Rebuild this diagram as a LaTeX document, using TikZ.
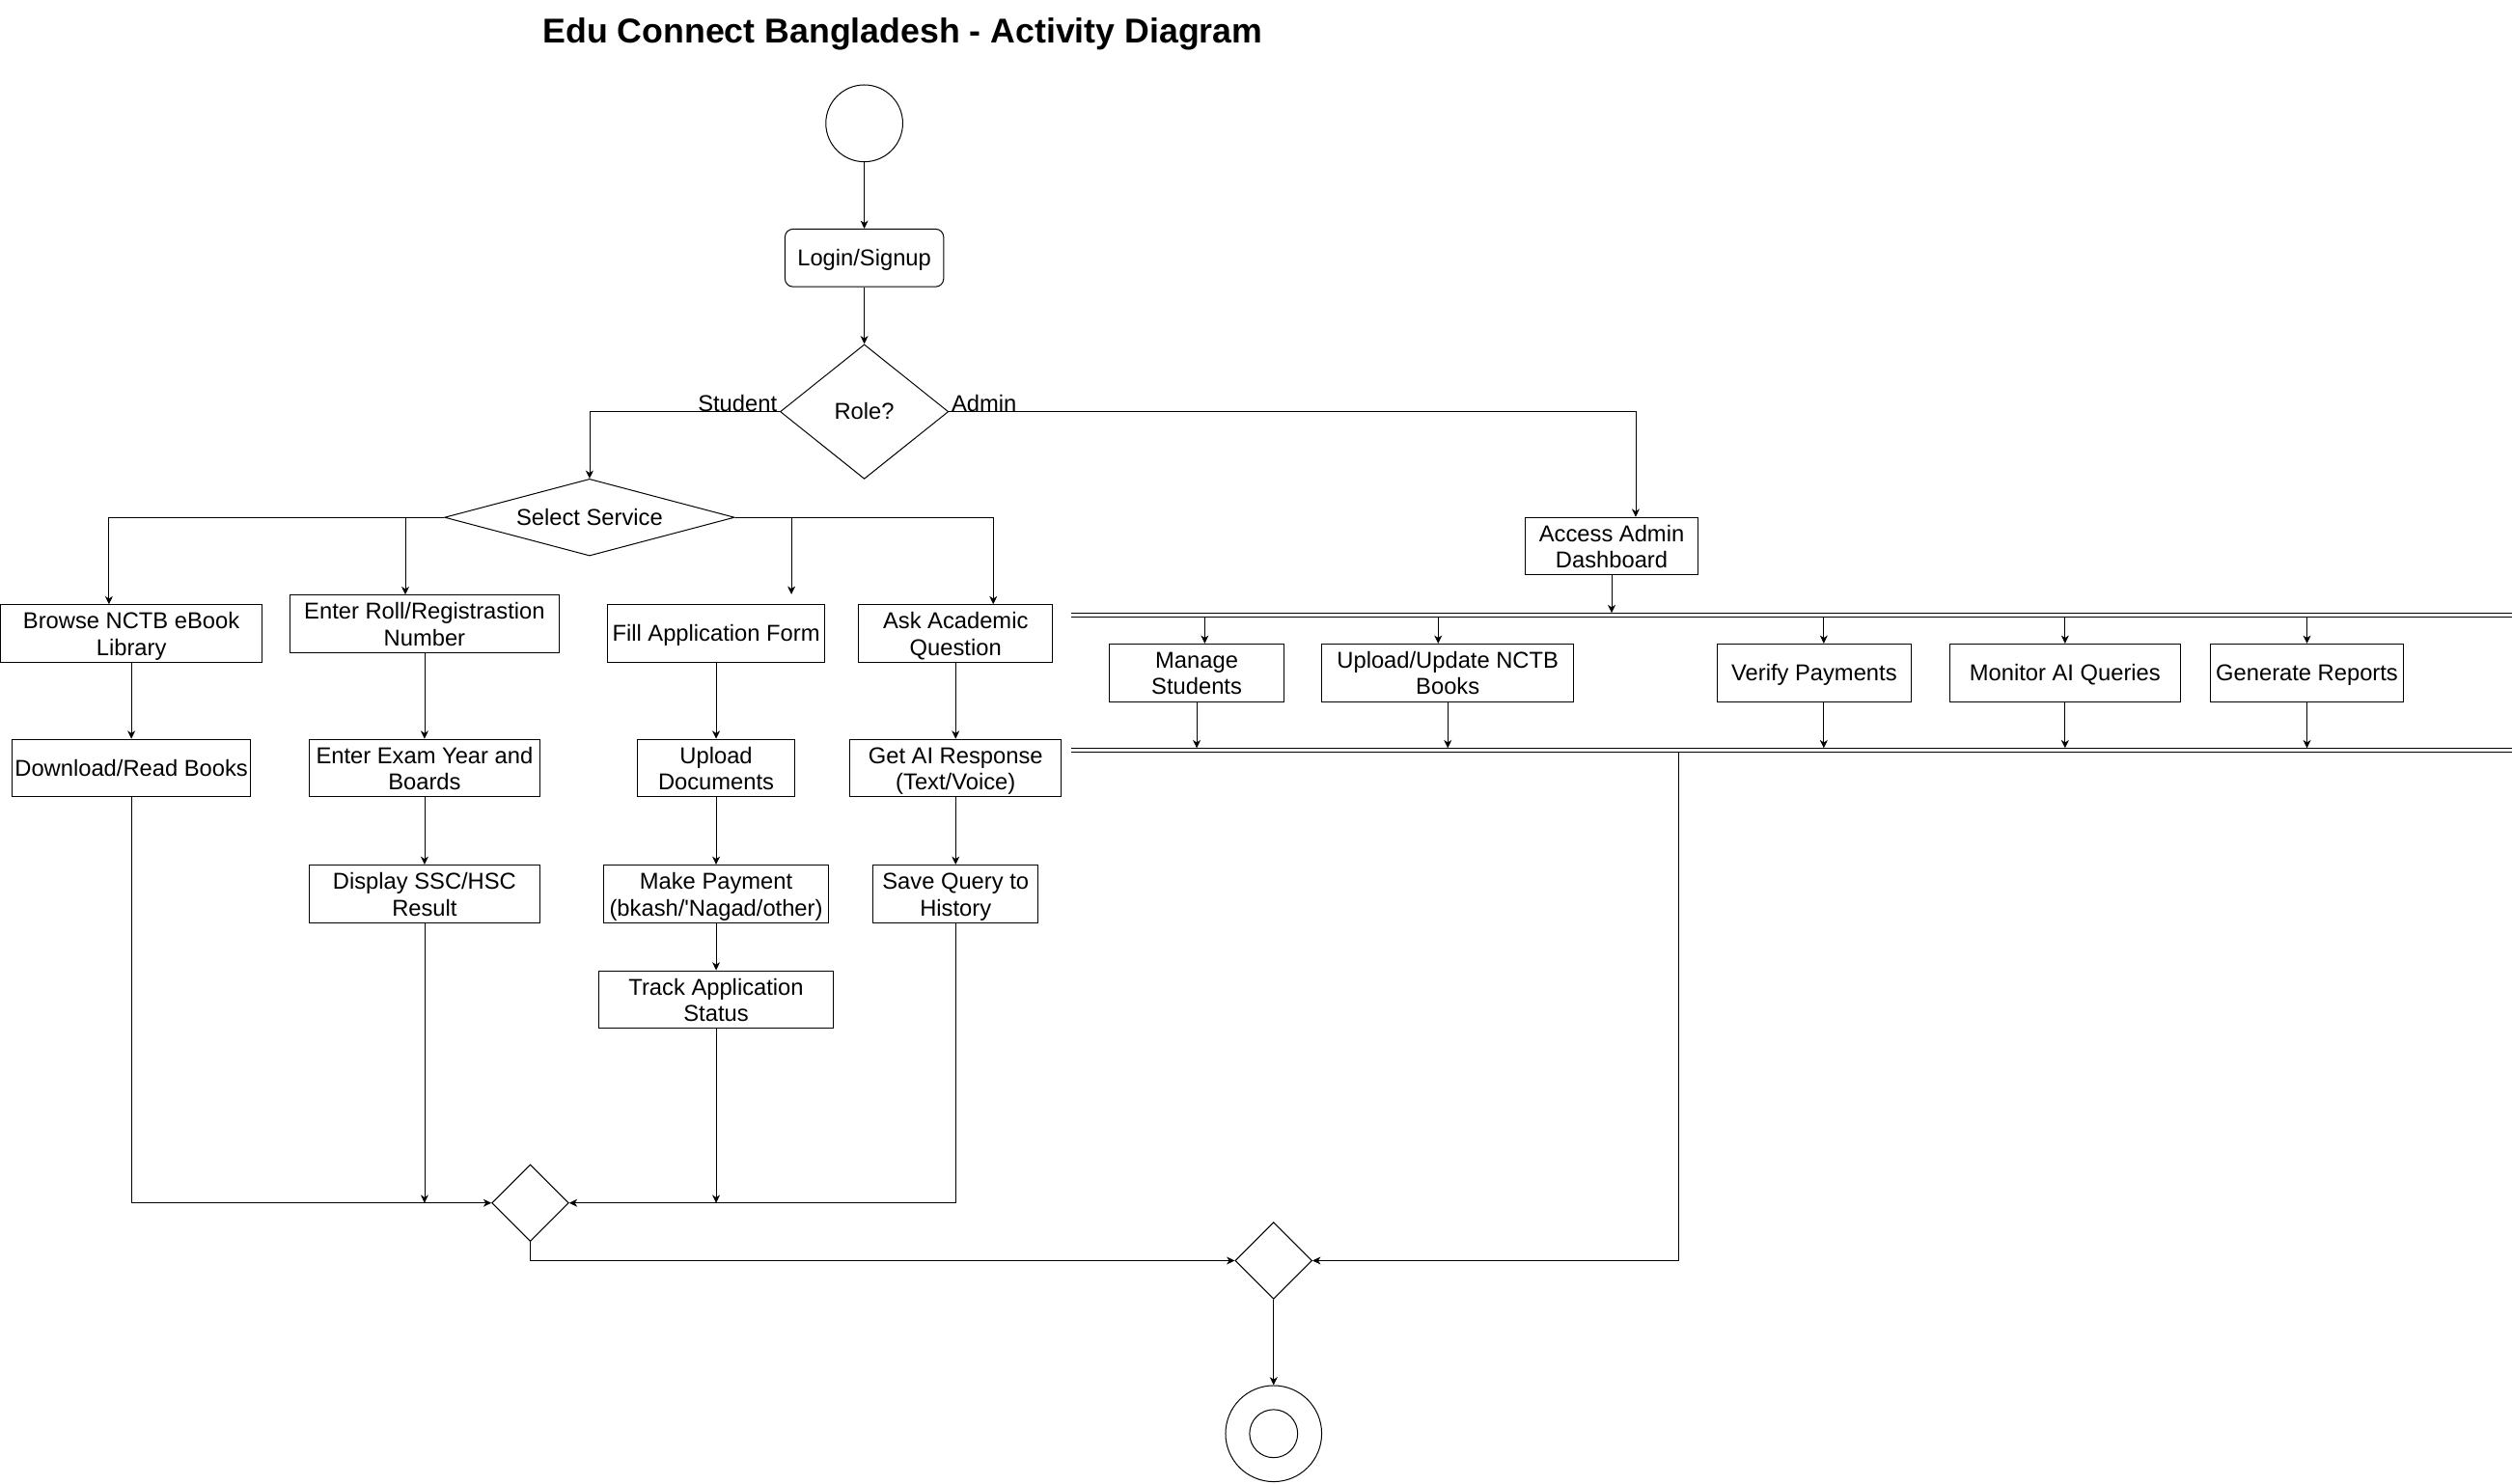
\documentclass[tikz,border=0pt]{standalone}
\usepackage{fontspec}
\setmainfont{Liberation Sans}
\usetikzlibrary{shapes.geometric, arrows.meta, positioning, calc}

\begin{document}
\begin{tikzpicture}[
        x=1pt, y=-1pt,
        start/.style={circle, draw, line width=0.6pt, minimum size=48pt, inner sep=0pt},
        finish/.style={circle, draw, line width=0.6pt, minimum size=60pt, inner sep=0pt, path picture={\draw[line width=0.6pt] (path picture bounding box.center) circle (15pt);}},
        activity/.style={rectangle, draw, line width=0.6pt, minimum height=36pt, inner sep=1pt, align=center, font=\fontsize{14.3pt}{16.5pt}\selectfont, text height=12.9pt, text depth=3pt},
        twoline/.style={text height=30.4pt},
        decision/.style={diamond, draw, line width=0.6pt, inner sep=0pt, align=center, font=\fontsize{14.3pt}{16.5pt}\selectfont, text height=12.9pt, text depth=3pt},
        bar/.style={rectangle, minimum height=2.4pt, minimum width=903pt, inner sep=0pt},
        arrow/.style={-{Stealth[length=5pt, width=4.8pt, inset=1.5pt]}, line width=0.5pt},
        guard/.style={font=\fontsize{14.3pt}{16.5pt}\selectfont, inner sep=1.5pt}
    ]
        \useasboundingbox (0,0) rectangle (1568,926);

        \node[font=\fontsize{21.5pt}{26pt}\selectfont\bfseries] (title) at (563.5, 21) {Edu Connect Bangladesh - Activity Diagram};

        % start and login
        \node[start] (init) at (539.5, 77) {};
        \node[activity, rounded corners=5pt, minimum width=99pt] (login) at (539.5, 161) {Login/Signup};
        \node[decision, minimum width=105pt, minimum height=84pt] (role) at (539.5, 257) {Role?};
        \node[guard, anchor=base east] (student) at (role.west) {Student};
        \node[guard, anchor=base west] (admin) at (role.east) {Admin};

        % student side
        \node[decision, aspect=3.77, minimum width=181pt, minimum height=48pt] (select) at (368, 323) {Select Service};

        \node[activity, twoline, minimum width=163pt] (browse) at (82, 395.5) {Browse NCTB eBook\\Library};
        \node[activity, twoline, minimum width=168pt] (roll) at (265, 389.5) {Enter Roll/Registrastion\\Number};
        \node[activity, minimum width=136pt] (fill) at (447, 395.5) {Fill Application Form};
        \node[activity, twoline, minimum width=121pt] (ask) at (596.5, 395.5) {Ask Academic\\Question};

        \node[activity, minimum width=149pt] (download) at (82, 479.5) {Download/Read Books};
        \node[activity, twoline, minimum width=144pt] (exam) at (265, 479.5) {Enter Exam Year and\\Boards};
        \node[activity, twoline, minimum width=98pt] (upload) at (447, 479.5) {Upload\\Documents};
        \node[activity, twoline, minimum width=132pt] (getai) at (596.5, 479.5) {Get AI Response\\(Text/Voice)};

        \node[activity, twoline, minimum width=144pt] (result) at (265, 558) {Display SSC/HSC\\Result};
        \node[activity, twoline, minimum width=140pt] (pay) at (447, 558) {Make Payment\\(bkash/\textquotesingle Nagad/other)};
        \node[activity, twoline, minimum width=103pt] (save) at (596.5, 558) {Save Query to\\History};

        \node[activity, twoline, minimum width=146pt] (track) at (447, 624) {Track Application\\Status};

        \node[decision, minimum width=48pt, minimum height=48pt] (mergeA) at (331, 751) {};
        \node[decision, minimum width=48pt, minimum height=48pt] (mergeB) at (795, 787) {};
        \node[finish] (final) at (795, 895) {};

        % admin side
        \node[activity, twoline, minimum width=108pt] (dash) at (1006, 341) {Access Admin\\Dashboard};
        \node[bar] (fork) at (1120.5, 384) {};
        \node[bar] (join) at (1120.5, 468.4) {};
        \draw[line width=0.7pt] (fork.north west) -- (fork.north east) (fork.south west) -- (fork.south east);
        \draw[line width=0.7pt] (join.north west) -- (join.north east) (join.south west) -- (join.south east);

        \node[activity, twoline, minimum width=109pt] (manage) at (747, 420) {Manage\\Students};
        \node[activity, twoline, minimum width=157pt] (books) at (903.7, 420) {Upload/Update NCTB\\Books};
        \node[activity, minimum width=121pt] (verify) at (1132.4, 420) {Verify Payments};
        \node[activity, minimum width=144pt] (monitor) at (1289, 420) {Monitor AI Queries};
        \node[activity, minimum width=121pt] (report) at (1440, 420) {Generate Reports};

        \coordinate (rollin) at ([xshift=-12pt]roll.north);
        \coordinate (fillin) at (494, 371);
        \coordinate (joinout) at (1048, 0);

        % connectors
        \draw[arrow] (init) -- (login);
        \draw[arrow] (login) -- (role);
        \draw[arrow] (role.west) -| (select.north);
        \draw[arrow] (role.east) -| ([xshift=15pt]dash.north);

        \draw[arrow] (select.west) -| ([xshift=-14pt]browse.north);
        \draw[arrow] (rollin |- select.west) -- (rollin);
        \draw[arrow] (fillin |- select.east) -- (fillin);
        \draw[arrow] (select.east) -| ([xshift=23.5pt]ask.north);

        \draw[arrow] (browse) -- (download);
        \draw[arrow] (roll) -- (exam);
        \draw[arrow] (exam) -- (result);
        \draw[arrow] (fill) -- (upload);
        \draw[arrow] (upload) -- (pay);
        \draw[arrow] (pay) -- (track);
        \draw[arrow] (ask) -- (getai);
        \draw[arrow] (getai) -- (save);

        \draw[arrow] (download.south) |- (mergeA.west);
        \draw[arrow] (result.south) -- (result.south |- mergeA.west);
        \draw[arrow] (track.south) -- (track.south |- mergeA.west);
        \draw[arrow] (save.south) |- (mergeA.east);
        \draw[arrow] (mergeA.south) |- (mergeB.west);

        \draw[arrow] (dash.south) -- (dash.south |- fork.north);
        \draw[arrow] ([xshift=5pt]manage.north |- fork.south) -- ([xshift=5pt]manage.north);
        \draw[arrow] ([xshift=-6pt]books.north |- fork.south) -- ([xshift=-6pt]books.north);
        \draw[arrow] ([xshift=6pt]verify.north |- fork.south) -- ([xshift=6pt]verify.north);
        \draw[arrow] (monitor.north |- fork.south) -- (monitor.north);
        \draw[arrow] (report.north |- fork.south) -- (report.north);

        \draw[arrow] (manage.south) -- (manage.south |- join.north);
        \draw[arrow] (books.south) -- (books.south |- join.north);
        \draw[arrow] ([xshift=6pt]verify.south) -- ([xshift=6pt]verify.south |- join.north);
        \draw[arrow] (monitor.south) -- (monitor.south |- join.north);
        \draw[arrow] (report.south) -- (report.south |- join.north);

        \draw[arrow] (join.south -| joinout) |- (mergeB.east);
        \draw[arrow] (mergeB) -- (final);
    \end{tikzpicture}
\end{document}
